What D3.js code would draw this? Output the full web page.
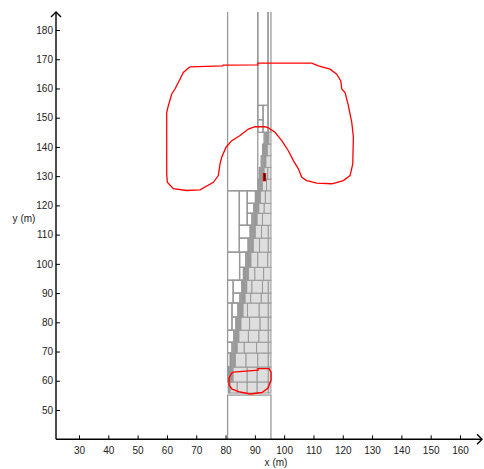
<!DOCTYPE html>
<html><head><meta charset="utf-8">
<script src="https://cdn.jsdelivr.net/npm/d3@7"></script>
<style>body{margin:0;background:#fff}</style>
</head><body>
<svg id="chart" width="484" height="469"></svg>
<script>
// ---------- data (metres) ----------
const xTicks = [30,40,50,60,70,80,90,100,110,120,130,140,150,160];
const yTicks = [50,60,70,80,90,100,110,120,130,140,150,160,170,180];

// rows of the occupied (grey) decomposition
const rowBottom = [55.8,59.6,64.7,69.5,73.2,77.3,81.8,86.6,90.0,94.4,98.8,104.0,108.8,113.2,117.3,120.7,125.0,129.0,133.0,137.0,141.0];
const rowTop    = [59.6,64.7,69.5,73.2,77.3,81.8,86.6,90.0,94.4,98.8,104.0,108.8,113.2,117.3,120.7,125.0,129.0,133.0,137.0,141.0,145.0];
const rowFilledLeft = [81.5,82.5,83.3,83.9,84.5,85.2,85.9,86.6,87.2,87.8,88.6,89.4,90.1,90.7,91.3,91.9,92.5,93.1,93.7,94.2,94.7];
const rowRight = 95.5;
const rowSplits = [
  [84.0,87.4,90.8,94.6],[87.4,90.8,94.6],[87.0,91.0,94.6],[86.4,90.6,94.6],[87.8,91.4,94.6],
  [88.2,91.8,94.6],[87.5,91.5,94.6],[88.6,92.2,94.6],[89.0,92.6,94.6],[90.0,93.0],
  [91.0,94.4],[91.6,94.6],[92.3,94.6],[92.6],[93.2],[93.6],[94.0],[94.4],[],[],[]
];
// narrow free cells along the diagonal boundary (x of cell edges)
const rowStrips = [
  [80.9,81.2],[81.0,81.3,81.6,81.9,82.2],[81.6,81.9,82.2,82.5,82.8,83.0],[82.2,82.5,82.8,83.1,83.4,83.6],
  [82.8,83.1,83.4,83.7,84.0,84.2],[83.5,83.8,84.1,84.4,84.7,84.9],[84.2,84.5,84.8,85.1,85.4,85.6],
  [84.9,85.2,85.5,85.8,86.1,86.3],[85.5,85.8,86.1,86.4,86.7,86.9],[86.1,86.4,86.7,87.0,87.3,87.5],
  [86.9,87.2,87.5,87.8,88.1,88.3],[87.7,88.0,88.3,88.6,88.9,89.1],[88.4,88.7,89.0,89.3,89.6,89.8],
  [89.0,89.3,89.6,89.9,90.2,90.4],[89.6,89.9,90.2,90.5,90.8,91.0],[90.2,90.5,90.8,91.1,91.4,91.6],
  [91.1,91.4,91.7,92.0,92.2],[91.5,91.8,92.1,92.4,92.7,92.9],[92.1,92.4,92.7,93.0,93.3,93.5],
  [92.6,92.9,93.2,93.5,93.8,94.0],[93.1,93.4,93.7,94.0,94.3,94.5]
];
// large free cells [x0, x1, y0, y1]
const freeCells = [
  [80.7,95.5,36.0,55.1],
  [80.7,91.0,125.0,190.0],[91.0,94.5,154.2,190.0],[94.5,95.5,145.0,190.0],
  [91.0,92.8,149.3,154.2],[91.0,92.8,145.0,149.3],[92.8,94.5,145.0,154.2],
  [80.7,81.0,59.6,64.7],[80.7,81.6,64.7,69.5],[80.7,82.2,69.5,73.2],[80.7,82.8,73.2,77.3],
  [80.7,82.2,77.3,86.6],[82.2,83.5,77.3,81.8],[82.2,84.2,81.8,86.6],
  [80.7,82.6,86.6,94.4],[82.6,84.9,86.6,90.0],[82.6,85.5,90.0,94.4],
  [80.7,84.8,94.4,104.0],[84.8,86.1,94.4,98.8],[84.8,86.9,98.8,104.0],
  [80.7,84.7,104.0,125.0],[84.7,87.7,104.0,108.8],[84.7,88.4,108.8,113.2],
  [84.7,87.4,113.2,125.0],[87.4,89.0,113.2,117.3],[87.4,89.6,117.3,120.7],[87.4,90.2,120.7,125.0]
];
// red contours
const bigContourX = [67.88,79.05,79.15,90.99,90.99,109.42,111.67,115.67,117.95,119.32,119.66,120.78,121.91,123.07,123.62,123.41,122.49,120.2,116.25,111.13,107.71,106.01,104.85,103.15,101.43,99.18,96.89,94.61,93.48,90.07,87.78,84.95,82.12,80.17,78.7,78.12,77.54,75.84,71.3,66.75,62.18,60.14,59.93,59.93,60.48,61.64,62.76,63.89,65.6];
const bigContourY = [167.4,167.75,168.0,168.1,168.67,168.67,167.75,166.6,164.9,162.6,159.8,158.6,154.1,148.4,143.3,134.2,130.2,128.5,127.4,127.6,128.5,129.6,132.5,135.3,138.7,142.15,145.0,146.5,146.9,146.9,146.1,143.9,142.15,139.9,136.45,134.2,130.2,127.9,125.3,125.1,125.7,127.9,130.8,151.8,154.1,158.1,159.8,162.05,165.5];
const smallContourX = [82.56,91.09,91.09,94.85,95.53,95.53,94.5,92.45,88.35,84.95,82.22,81.2,81.2,81.88];
const smallContourY = [62.97,63.65,64.16,64.16,62.97,60.24,57.5,55.97,55.46,56.14,57.17,58.53,60.92,62.29];
const vehicleBox = [92.9,93.7,128.4,130.9];

// ---------- drawing ----------
const svg = d3.select("#chart");
const x = d3.scaleLinear().domain([30,160]).range([79,460]);
const y = d3.scaleLinear().domain([50,180]).range([410,30]);
const xMin = x.invert(56), xMax = x.invert(482);
const yMin = y.invert(439.3), yMax = y.invert(12);

svg.append("clipPath").attr("id","plotclip").append("rect")
  .attr("x", x(xMin)).attr("y", y(yMax)).attr("width", x(xMax)-x(xMin)).attr("height", y(yMin)-y(yMax));

const grid = svg.append("g").attr("clip-path","url(#plotclip)");
const rect = (g, c, fill, sw) => g.append("rect")
  .attr("x", x(c[0])).attr("y", y(c[3]))
  .attr("width", x(c[1]) - x(c[0])).attr("height", y(c[2]) - y(c[3]))
  .attr("fill", fill).attr("stroke", "#999").attr("stroke-width", sw || 1);

freeCells.forEach(c => rect(grid, c, "none", 1.3));

rowBottom.forEach((b, i) => {
  const t = rowTop[i];
  const edges = [rowFilledLeft[i], ...rowSplits[i], rowRight];
  for (let k = 0; k < edges.length - 1; k++) rect(grid, [edges[k], edges[k+1], b, t], "#dedede");
  const s = rowStrips[i];
  const m = (b + t) / 2;
  for (let k = 0; k < s.length; k++) {
    const nx = k < s.length - 1 ? s[k+1] : rowFilledLeft[i];
    rect(grid, [s[k], nx, b, m], "#eeeeee");
    rect(grid, [s[k], nx, m, t], "#eeeeee");
  }
});

const line = d3.line().x(d => x(d[0])).y(d => y(d[1]));
svg.append("path").datum(bigContourX.map((v,i)=>[v,bigContourY[i]]).concat([[bigContourX[0],bigContourY[0]]]))
  .attr("d", line).attr("fill","none").attr("stroke","#ff0000").attr("stroke-width",1.3);
svg.append("path").datum(smallContourX.map((v,i)=>[v,smallContourY[i]]).concat([[smallContourX[0],smallContourY[0]]]))
  .attr("d", line).attr("fill","none").attr("stroke","#ff0000").attr("stroke-width",1.4);
rect(svg, vehicleBox, "#3a0505").attr("stroke","#d00000");

// axes
const font = "'Liberation Sans', Arial, sans-serif";
const xAxis = svg.append("g").attr("transform", `translate(0,${y(yMin)})`)
  .call(d3.axisBottom(x).tickValues(xTicks).tickSize(0).tickPadding(8));
xAxis.select(".domain").remove();
xAxis.selectAll(".tick").append("line").attr("y1",0).attr("y2",-4).attr("stroke","#000");
xAxis.selectAll("text").attr("font-family",font).attr("font-size",10).attr("fill","#222");

const yAxis = svg.append("g").attr("transform", `translate(${x(xMin)},0)`)
  .call(d3.axisLeft(y).tickValues(yTicks).tickSize(0).tickPadding(3));
yAxis.select(".domain").remove();
yAxis.selectAll(".tick").append("line").attr("x1",0).attr("x2",4).attr("stroke","#000");
yAxis.selectAll("text").attr("font-family",font).attr("font-size",10).attr("fill","#222");

const ax = svg.append("g").attr("stroke","#000").attr("stroke-width",1.4).attr("fill","none");
ax.append("line").attr("x1",x(xMin)).attr("x2",x(xMax)).attr("y1",y(yMin)).attr("y2",y(yMin));
ax.append("line").attr("x1",x(xMin)).attr("x2",x(xMin)).attr("y1",y(yMin)).attr("y2",y(yMax));
ax.append("path").attr("d",`M${x(xMax)-5},${y(yMin)-5}L${x(xMax)},${y(yMin)}L${x(xMax)-5},${y(yMin)+5}`);
ax.append("path").attr("d",`M${x(xMin)-5},${y(yMax)+5}L${x(xMin)},${y(yMax)}L${x(xMin)+5},${y(yMax)+5}`);

svg.append("text").attr("x",(x(xMin)+x(xMax))/2 + 7).attr("y",466).attr("text-anchor","middle")
  .attr("font-family",font).attr("font-size",10).attr("fill","#222").text("x (m)");
svg.append("text").attr("x",24).attr("y",222).attr("text-anchor","middle")
  .attr("font-family",font).attr("font-size",10).attr("fill","#222").text("y (m)");
</script>
</body></html>
